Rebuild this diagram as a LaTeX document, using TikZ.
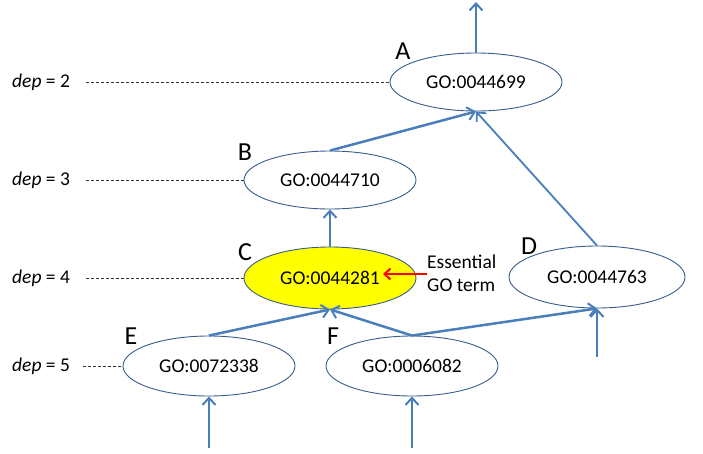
\documentclass[tikz,border=0pt]{standalone}
\usepackage{fontspec}
\setmainfont{Carlito}
\usetikzlibrary{arrows.meta,shapes.geometric}
\definecolor{edgeblue}{RGB}{74,126,187}
\definecolor{rimblue}{RGB}{56,93,138}
\definecolor{hiyellow}{RGB}{255,255,0}
\tikzset{
  term/.style={ellipse,draw=rimblue,line width=0.9pt,fill=white,inner sep=0pt,
    minimum width=172pt,minimum height=58pt,font=\fontsize{19.5}{23}\selectfont},
  link/.style={draw=edgeblue,line width=2.5pt,-{Straight Barb[length=7pt,width=13pt,line width=2pt]}},
  thinlink/.style={draw=edgeblue,line width=1.8pt},
  level/.style={draw=black!80,line width=0.6pt,dash pattern=on 3pt off 2pt},
  deplabel/.style={anchor=west,inner sep=0pt,font=\fontsize{19.5}{23}\selectfont},
  letter/.style={inner sep=0pt,font=\fontsize{26}{30}\selectfont},
}
\begin{document}
\begin{tikzpicture}[x=1pt,y=-1pt]
\useasboundingbox (0,0) rectangle (703,453);
% nodes
\node[term] (A) at (476,82) {GO:0044699};
\node[term] (B) at (330,180) {GO:0044710};
\node[term,fill=hiyellow,minimum height=62pt] (C) at (330,278) {GO:0044281};
\node[term,minimum width=176pt,minimum height=62pt] (D) at (597,277) {GO:0044763};
\node[term,minimum height=60pt] (E) at (209,366) {GO:0072338};
\node[term,minimum height=60pt] (F) at (412,366) {GO:0006082};
% letters
\node[letter] (lA) at (403,51) {A};
\node[letter] (lB) at (245,152) {B};
\node[letter] (lC) at (245,252) {C};
\node[letter] (lD) at (529,246) {D};
\node[letter] (lE) at (131,336) {E};
\node[letter] (lF) at (333,336) {F};
% depth labels
\node[deplabel] (d2) at (12,82) {\textit{dep} = 2};
\node[deplabel] (d3) at (12,180) {\textit{dep} = 3};
\node[deplabel] (d4) at (12,278) {\textit{dep} = 4};
\node[deplabel] (d5) at (12,366) {\textit{dep} = 5};
\coordinate (s2) at (86,82);
\coordinate (s3) at (86,180);
\coordinate (s4) at (86,278);
\coordinate (s5) at (83,366);
\draw[level] (s2) -- (A.west);
\draw[level] (s3) -- (B.west);
\draw[level] (s4) -- (C.west);
\draw[level] (s5) -- (E.west);
% essential
\node[anchor=west,inner sep=0pt,align=left,font=\fontsize{19.5}{23}\selectfont] (ess) at (427,273) {Essential\\GO term};
\coordinate (essTip) at (383,274);
\draw[draw=red,line width=2.2pt,-{Straight Barb[length=6pt,width=11pt,line width=2pt]}] (ess.west |- essTip) -- (essTip);
% free ends
\coordinate (top) at (476,2);
\coordinate (eIn) at (E.south |- 0,448);
\coordinate (fIn) at (F.south |- 0,448);
\coordinate (dIn) at (D.south |- 0,357);
% edges
\draw[link] (A.north) -- (top);
\draw[link] (B.north) -- (A.south);
\draw[thinlink,-{Straight Barb[length=7pt,width=13pt,line width=1.8pt]}] (D.north) -- (A.south);
\draw[link] (C.north) -- (B.south);
\draw[link] (E.north) -- (C.south);
\draw[link] (F.north) -- (C.south);
\draw[link] (F.north) -- (D.south);
\draw[link] (eIn) -- (E.south);
\draw[link] (fIn) -- (F.south);
\draw[link] (dIn) -- (D.south);
\end{tikzpicture}
\end{document}
